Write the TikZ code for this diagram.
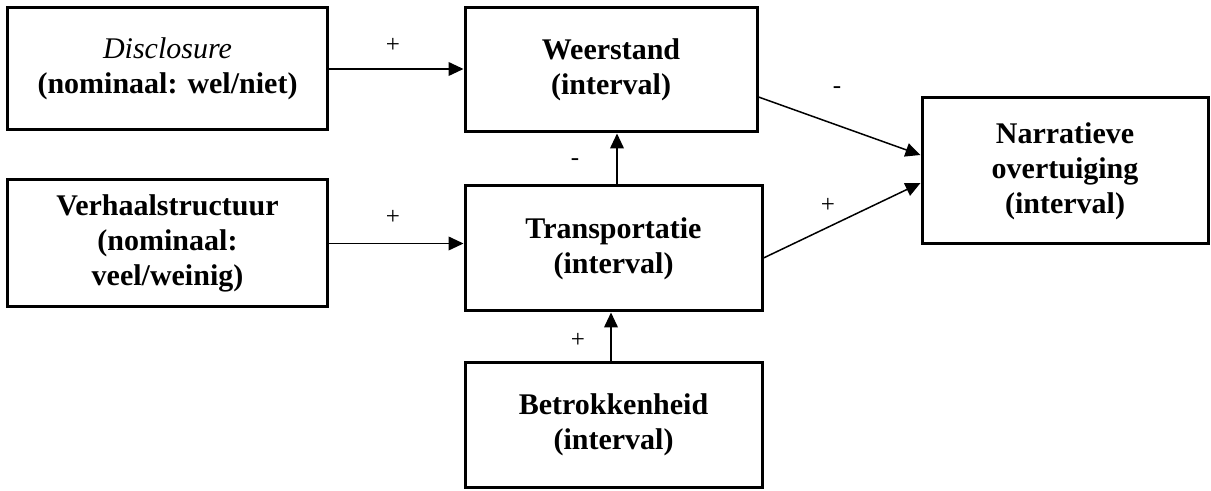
\documentclass[tikz,border=0pt]{standalone}
\usepackage{fontspec}
\setmainfont{Liberation Serif}
\usetikzlibrary{arrows.meta}

\begin{document}
\begin{tikzpicture}
	[x=0.4pt, y=-0.4pt,
	box/.style={draw, line width=1.2pt, align=center, inner sep=0pt,
		font=\fontsize{12}{14}\selectfont\bfseries},
	pijl/.style={-{Triangle[length=6pt,width=5.5pt]}, line width=0.6pt},
	teken/.style={font=\fontsize{10}{12}\selectfont}]
	\useasboundingbox (0,0) rectangle (1211,491);
	% variabelen
	\node[box, minimum width=127.6pt, minimum height=48.8pt] (discl) at (167.5,69)
		{\textit{\mdseries Disclosure}\\(nominaal: wel/niet)};
	\node[box, minimum width=127.6pt, minimum height=50.8pt] (verhaal) at (167.5,243.5)
		{Verhaalstructuur\\(nominaal:\\veel/weinig)};
	\node[box, minimum width=116.8pt, minimum height=49.6pt] (weer) at (611,70)
		{Weerstand\\(interval)};
	\node[box, minimum width=118.8pt, minimum height=50pt] (trans) at (613.5,248.5)
		{Transportatie\\(interval)};
	\node[box, minimum width=118.8pt, minimum height=49.6pt] (betrok) at (613.5,425)
		{Betrokkenheid\\(interval)};
	\node[box, minimum width=114.4pt, minimum height=58.4pt] (narr) at (1065,171)
		{Narratieve\\overtuiging\\(interval)};
	% pijlen
	\draw[pijl] (discl.east) -- (weer.west |- discl.east);
	\draw[pijl] (verhaal.east) -- (trans.west |- verhaal.east);
	\draw[pijl] ([xshift=1.4pt]trans.north) -- ([xshift=1.4pt]trans.north |- weer.south);
	\draw[pijl] ([xshift=-1pt]betrok.north) -- ([xshift=-1pt]betrok.north |- trans.south);
	\draw[pijl] ([yshift=-10.8pt]weer.east) -- ([yshift=6.4pt]narr.west);
	\draw[pijl] ([yshift=-3.8pt]trans.east) -- ([yshift=-4.8pt]narr.west);
	% tekens
	\node[teken] (t1) at (393,45) {+};
	\node[teken] (t2) at (393,217) {+};
	\node[teken] (t3) at (575,162) {-};
	\node[teken] (t4) at (578,340) {+};
	\node[teken] (t5) at (837,90) {-};
	\node[teken] (t6) at (828,205) {+};
\end{tikzpicture}
\end{document}
